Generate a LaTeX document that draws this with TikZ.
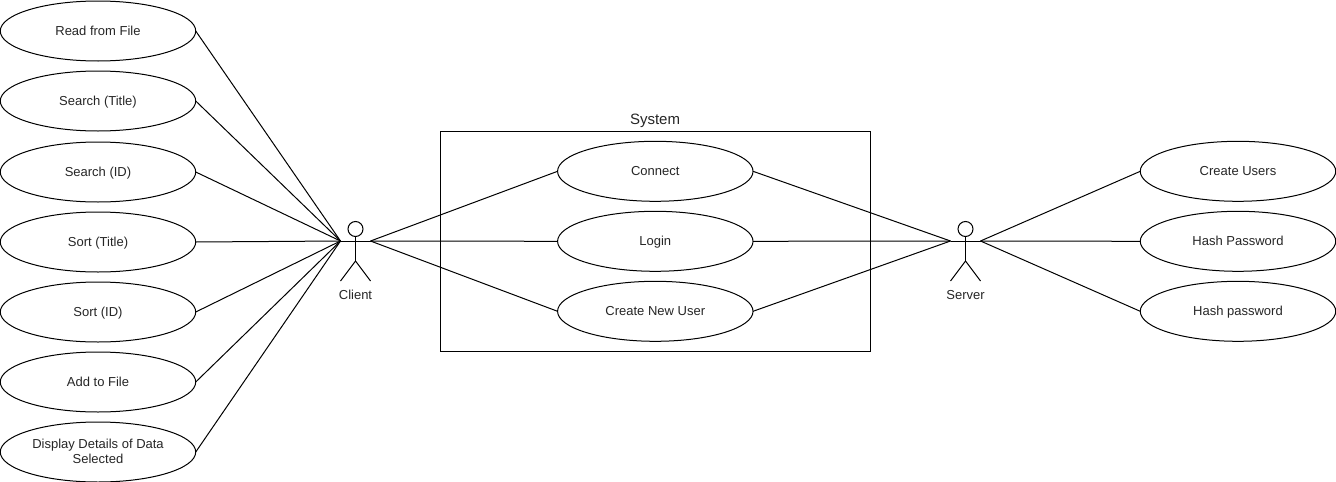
\documentclass[tikz,border=0pt]{standalone}
\usepackage{fontspec}
\setmainfont{Liberation Sans}
\usetikzlibrary{shapes.geometric}
\newcommand\ulbl[1]{\raisebox{-0.6pt}[7pt][2pt]{#1}}
\tikzset{
  px/.style={x=0.75pt,y=-0.75pt},
  usecase/.style={draw=black,ellipse,line width=0.75pt,minimum width=146.6pt,minimum height=45pt,inner sep=0pt,outer sep=0pt,align=center,font=\fontsize{9.75}{10.9}\selectfont,text=black!85,fill=white},
  lbl/.style={font=\fontsize{9.75}{10.9}\selectfont,text=black!85,inner sep=0pt},
  link/.style={line width=0.75pt,draw=black},
  actorhead/.style={draw=black,circle,line width=0.75pt,minimum size=11.25pt,inner sep=0pt,outer sep=0pt},
}
\begin{document}
\begin{tikzpicture}[px]
\useasboundingbox (0,0) rectangle (1336,482);
\fill[white] (0,0) rectangle (1336,482);
% system box
\node[draw=black,line width=0.75pt,minimum width=322.5pt,minimum height=165pt,inner sep=0pt,outer sep=0pt] (sys) at (655.5,241.5) {};
\node[font=\fontsize{11.25}{13}\selectfont,text=black!85,inner sep=0pt] (systitle) at (655,120.5) {System};
% use cases
\node[usecase] (read) at (98,31) {\ulbl{Read from File}};
\node[usecase] (stitle) at (98,101) {\ulbl{Search (Title)}};
\node[usecase] (sid) at (98,172) {\ulbl{Search (ID)}};
\node[usecase] (otitle) at (98,242) {\ulbl{Sort (Title)}};
\node[usecase] (oid) at (98,312) {\ulbl{Sort (ID)}};
\node[usecase] (add) at (98,382) {\ulbl{Add to File}};
\node[usecase] (disp) at (98,452) {\ulbl{Display Details of Data}\\\ulbl{Selected}};
\node[usecase] (conn) at (655.3,171.3) {\ulbl{Connect}};
\node[usecase] (login) at (655.3,241.3) {\ulbl{Login}};
\node[usecase] (newu) at (655.3,311.3) {\ulbl{Create New User}};
\node[usecase] (cusers) at (1238,171.3) {\ulbl{Create Users}};
\node[usecase] (hash1) at (1238,241.3) {\ulbl{Hash Password}};
\node[usecase] (hash2) at (1238,311.3) {\ulbl{Hash password}};
% actors
\coordinate (cl) at (340.5,241);
\coordinate (cr) at (370.5,241);
\coordinate (sl) at (950.5,241);
\coordinate (sr) at (980.5,241);
\node[actorhead] (chead) at (355.5,229) {};
\draw[link] (chead.south) -- (355.5,261) coordinate (chip);
\draw[link] (cl) -- (cr);
\draw[link] (340.5,281) -- (chip) -- (370.5,281);
\node[lbl] (clabel) at (355.5,295.5) {\ulbl{Client}};
\node[actorhead] (shead) at (965.5,229) {};
\draw[link] (shead.south) -- (965.5,261) coordinate (ship);
\draw[link] (sl) -- (sr);
\draw[link] (950.5,281) -- (ship) -- (980.5,281);
\node[lbl] (slabel) at (965.5,295.5) {\ulbl{Server}};
% connectors
\foreach \n in {read,stitle,sid,otitle,oid,add,disp} \draw[link] (\n.east) -- (cl);
\foreach \n in {conn,login,newu} {\draw[link] (cr) -- (\n.west); \draw[link] (\n.east) -- (sl);}
\foreach \n in {cusers,hash1,hash2} \draw[link] (sr) -- (\n.west);
\end{tikzpicture}
\end{document}
